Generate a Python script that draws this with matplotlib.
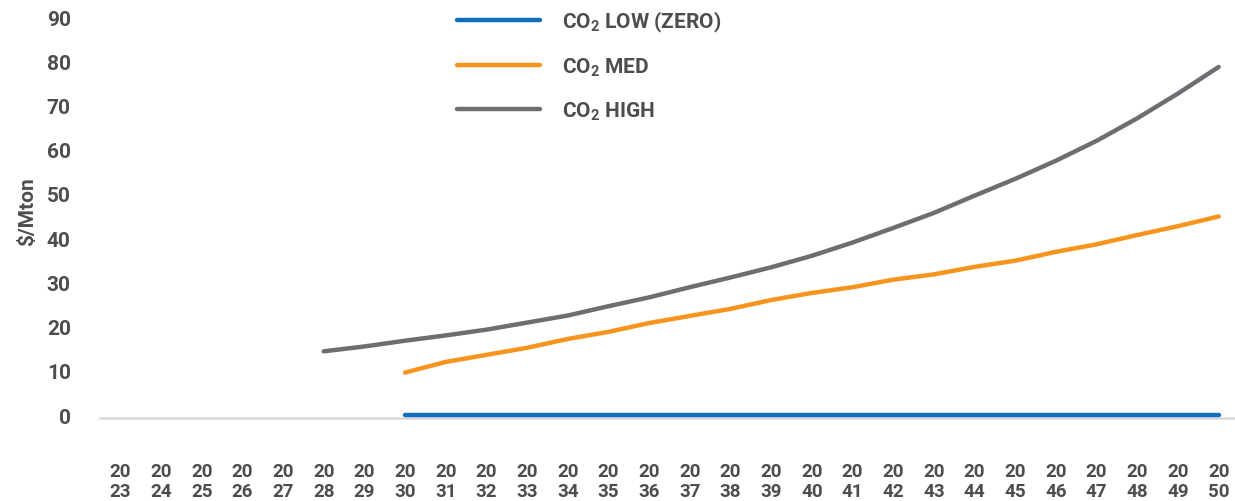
import matplotlib
matplotlib.use("Agg")
from matplotlib import pyplot as plt
import numpy as np

years = list(range(2023, 2051))
year_labels = ["%s\n%s" % (str(y)[:2], str(y)[2:]) for y in years]

# CO2 price scenarios, $/Mton (None = no value that year)
co2_low = [None] * 7 + [0.0] * 21
co2_med = [None] * 7 + [9.6, 12.0, 13.6, 15.2, 17.2, 18.8, 20.8, 22.4, 24.0, 26.0,
                        27.6, 28.9, 30.6, 31.8, 33.5, 34.9, 36.9, 38.6, 40.7, 42.7, 44.9]
co2_high = [None] * 5 + [14.4, 15.5, 16.8, 18.0, 19.3, 20.9, 22.5, 24.6, 26.6, 28.9,
                         31.1, 33.4, 36.0, 39.0, 42.3, 45.7, 49.6, 53.4, 57.5, 62.0,
                         67.1, 72.7, 78.7]

TEXT = "#4d4d4f"
plt.rcParams['font.family'] = ['Roboto', 'DejaVu Sans']
plt.rcParams['font.weight'] = 'bold'
plt.rcParams['mathtext.fontset'] = 'custom'
plt.rcParams['mathtext.rm'] = 'Roboto:bold'
plt.rcParams['mathtext.bf'] = 'Roboto:bold'

fig = plt.figure(figsize=(12.35, 5.02), dpi=100)
ax = fig.add_axes([100 / 1235, 1 - 416 / 502, 1139 / 1235, 398 / 502])

x = np.arange(len(years))


def series(vals):
    return np.array([np.nan if v is None else v for v in vals], dtype=float)


ax.plot(x, series(co2_low), color="#0f6fbd", lw=3.2, solid_capstyle='round',
        label=r"CO$_{\mathbf{2}}$ LOW (ZERO)", zorder=3, clip_on=False)
ax.plot(x, series(co2_med), color="#f7941e", lw=3.2, solid_capstyle='round',
        label=r"CO$_{\mathbf{2}}$ MED")
ax.plot(x, series(co2_high), color="#6d6e71", lw=3.2, solid_capstyle='round',
        label=r"CO$_{\mathbf{2}}$ HIGH")

ax.set_xlim(-0.5, len(years) - 0.5)
ax.set_ylim(0, 90)
ax.set_yticks(range(0, 91, 10))
ax.set_xticks(x)
ax.set_xticklabels(year_labels, linespacing=1.0)
ax.tick_params(axis='y', length=0, pad=21, labelsize=15, labelcolor=TEXT)
ax.tick_params(axis='x', length=0, pad=31, labelsize=13.5, labelcolor=TEXT)

for s in ['top', 'right', 'left']:
    ax.spines[s].set_visible(False)
ax.spines['bottom'].set_color("#d9d9d9")
ax.spines['bottom'].set_linewidth(1.8)
ax.spines['bottom'].set_position(('outward', 2.5))

fig.text(28 / 1235, 1 - 212 / 502, "$/Mton", rotation=90, ha='center', va='center',
         fontsize=15, color=TEXT, fontweight='bold')

leg = fig.legend(loc='upper left', bbox_to_anchor=(438 / 1235, 1.017), frameon=False,
                 fontsize=15, handlelength=4.0, handletextpad=1.05, labelspacing=1.02)
for t in leg.get_texts():
    t.set_color(TEXT)

fig.savefig("out.png", dpi=100)
